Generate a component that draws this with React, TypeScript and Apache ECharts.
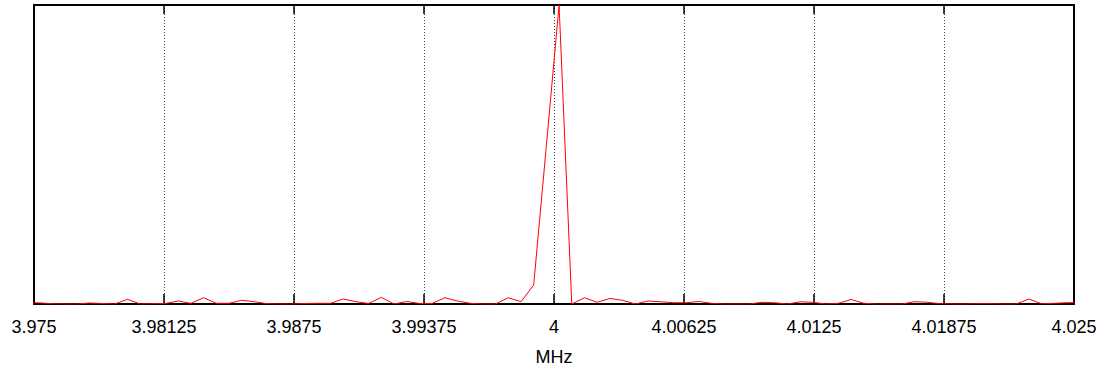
import React, { useEffect, useRef } from "react";
import * as echarts from "echarts";

// Frequencies of the FFT bins (MHz)
const freqs: number[] = [
  3.974609, 3.97522, 3.97583, 3.97644, 3.977051, 3.977661, 3.978271, 3.978882, 3.979492, 3.980103,
  3.980713, 3.981323, 3.981934, 3.982544, 3.983154, 3.983765, 3.984375, 3.984985, 3.985596, 3.986206,
  3.986816, 3.987427, 3.988037, 3.988647, 3.989258, 3.989868, 3.990479, 3.991089, 3.991699, 3.99231,
  3.99292, 3.99353, 3.994141, 3.994751, 3.995361, 3.995972, 3.996582, 3.997192, 3.997803, 3.998413,
  3.999023, 3.999634, 4.000244, 4.000854, 4.001465, 4.002075, 4.002686, 4.003296, 4.003906, 4.004517,
  4.005127, 4.005737, 4.006348, 4.006958, 4.007568, 4.008179, 4.008789, 4.009399, 4.01001, 4.01062,
  4.01123, 4.011841, 4.012451, 4.013062, 4.013672, 4.014282, 4.014893, 4.015503, 4.016113, 4.016724,
  4.017334, 4.017944, 4.018555, 4.019165, 4.019775, 4.020386, 4.020996, 4.021606, 4.022217, 4.022827,
  4.023438, 4.024048, 4.024658, 4.025269,
];

// Magnitude (relative, peak = 100)
const magnitude: number[] = [
  0.5, 0.4, 0.1, 0, 0, 0.33, 0.17, 0, 1.57, 0,
  0.1, 0.17, 1.0, 0.23, 2.1, 0.23, 0.23, 1.24, 0.77, 0.1,
  0, 0, 0.17, 0.23, 0.23, 1.67, 0.77, 0.17, 2.24, 0,
  0.84, 0.17, 0.17, 2.1, 1.0, 0.23, 0, 0, 2.1, 0.77,
  6.35, 53, 100, 0, 2.1, 0.57, 1.84, 1.24, 0, 1.0,
  0.74, 0.43, 0.43, 0.84, 0.23, 0, 0, 0, 0.57, 0.4,
  0, 0.74, 0.57, 0, 0.23, 1.5, 0.23, 0, 0, 0,
  0.77, 0.57, 0.1, 0, 0, 0.1, 0.1, 0, 0, 1.67,
  0.1, 0.23, 0.43, 0.5,
];

const xTickLabels: string[] = [
  "3.975", "3.98125", "3.9875", "3.99375", "4", "4.00625", "4.0125", "4.01875", "4.025",
];

const X_MIN = 3.975;
const X_MAX = 4.025;
const X_STEP = 0.00625;

export default function App() {
  const ref = useRef<HTMLDivElement>(null);

  useEffect(() => {
    if (!ref.current) return;
    const chart = echarts.init(ref.current, undefined, { renderer: "svg" });
    const fmt = (v: number) => {
      const idx = Math.round((v - X_MIN) / X_STEP);
      return xTickLabels[idx] ?? "";
    };
    const font = "'Liberation Sans', Arial, sans-serif";
    chart.setOption({
      animation: false,
      backgroundColor: "#ffffff",
      grid: { left: 34, right: 31, top: 5, bottom: 68, containLabel: false },
      xAxis: [
        {
          type: "value",
          position: "bottom",
          min: X_MIN,
          max: X_MAX,
          interval: X_STEP,
          name: "MHz",
          nameLocation: "middle",
          nameGap: 44,
          nameTextStyle: { color: "#000", fontSize: 18, fontFamily: font },
          axisLine: { show: true, onZero: false, lineStyle: { color: "#000", width: 2 } },
          axisTick: { show: true, inside: true, length: 10, lineStyle: { color: "#000", width: 1.5 } },
          axisLabel: { color: "#000", fontSize: 18, fontFamily: font, margin: 14, formatter: fmt },
          splitLine: { show: true, lineStyle: { color: "#444", type: [1, 2], width: 1 } },
        },
        {
          type: "value",
          position: "top",
          min: X_MIN,
          max: X_MAX,
          interval: X_STEP,
          axisLine: { show: true, onZero: false, lineStyle: { color: "#000", width: 2 } },
          axisTick: { show: true, inside: true, length: 9, lineStyle: { color: "#000", width: 1.5 } },
          axisLabel: { show: false },
          splitLine: { show: false },
        },
      ],
      yAxis: [
        {
          type: "value",
          position: "left",
          min: 0,
          max: 100,
          axisLine: { show: true, onZero: false, lineStyle: { color: "#000", width: 2 } },
          axisTick: { show: false },
          axisLabel: { show: false },
          splitLine: { show: false },
        },
        {
          type: "value",
          position: "right",
          min: 0,
          max: 100,
          axisLine: { show: true, onZero: false, lineStyle: { color: "#000", width: 2 } },
          axisTick: { show: false },
          axisLabel: { show: false },
          splitLine: { show: false },
        },
      ],
      series: [
        {
          type: "line",
          xAxisIndex: 0,
          yAxisIndex: 0,
          data: freqs.map((f, i) => [f, magnitude[i]]),
          showSymbol: false,
          symbol: "none",
          clip: true,
          lineStyle: { color: "#ff0000", width: 1 },
          z: 1,
        },
      ],
    });
    return () => chart.dispose();
  }, []);

  return <div ref={ref} style={{ width: 1105, height: 372, position: "absolute", left: 0, top: 0 }} />;
}
